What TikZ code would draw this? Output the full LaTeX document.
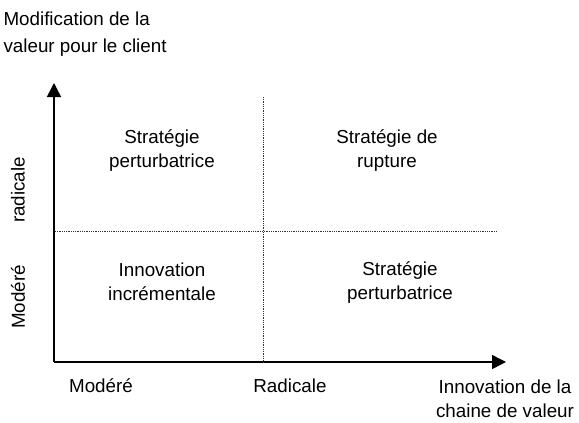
\documentclass[tikz,border=0pt]{standalone}
\usepackage{fontspec}
\setmainfont{Liberation Sans}
\usepackage{tikz}
\usetikzlibrary{arrows.meta, positioning}

\begin{document}
\begin{tikzpicture}[x=1pt, y=-1pt, font=\fontsize{18.8}{24}\selectfont,
	axis/.style={line width=1.5pt, -{Triangle[length=14pt, width=14pt]}},
	sep/.style={densely dotted, line width=0.8pt, black!80},
	quad/.style={align=center}]
	\useasboundingbox (0,0) rectangle (579,423);
	% axes
	\coordinate (o) at (54,362);
	\coordinate (ytip) at (54,83);
	\coordinate (xtip) at (506,362);
	\draw[axis] (o) -- (ytip);
	\draw[axis] (o) -- (xtip);
	% separations
	\coordinate (vtop) at (263,97);
	\coordinate (vbot) at (263,362);
	\coordinate (hleft) at (55,231);
	\coordinate (hright) at (497,231);
	\draw[sep] (vtop) -- (vbot);
	\draw[sep] (hleft) -- (hright);
	% quadrants
	\node[quad] (q_tl) at (162,151) {Stratégie\\perturbatrice};
	\node[quad] (q_tr) at (387,151) {Stratégie de\\rupture};
	\node[quad] (q_bl) at (162,282) {Innovation\\incrémentale};
	\node[quad] (q_br) at (400,283) {Stratégie\\perturbatrice};
	% axis labels
	\node[align=left, anchor=west, font=\fontsize{18.8}{27}\selectfont] (ylab) at (0,34) {Modification de la\\valeur pour le client};
	\node[rotate=90] (yhigh) at (18,190) {radicale};
	\node[rotate=90] (ylow) at (18,297) {Modéré};
	\node (xlow) at (101,386) {Modéré};
	\node (xhigh) at (290,386) {Radicale};
	\node[align=center] (xlab) at (505,399) {Innovation de la\\chaine de valeur};
\end{tikzpicture}
\end{document}
